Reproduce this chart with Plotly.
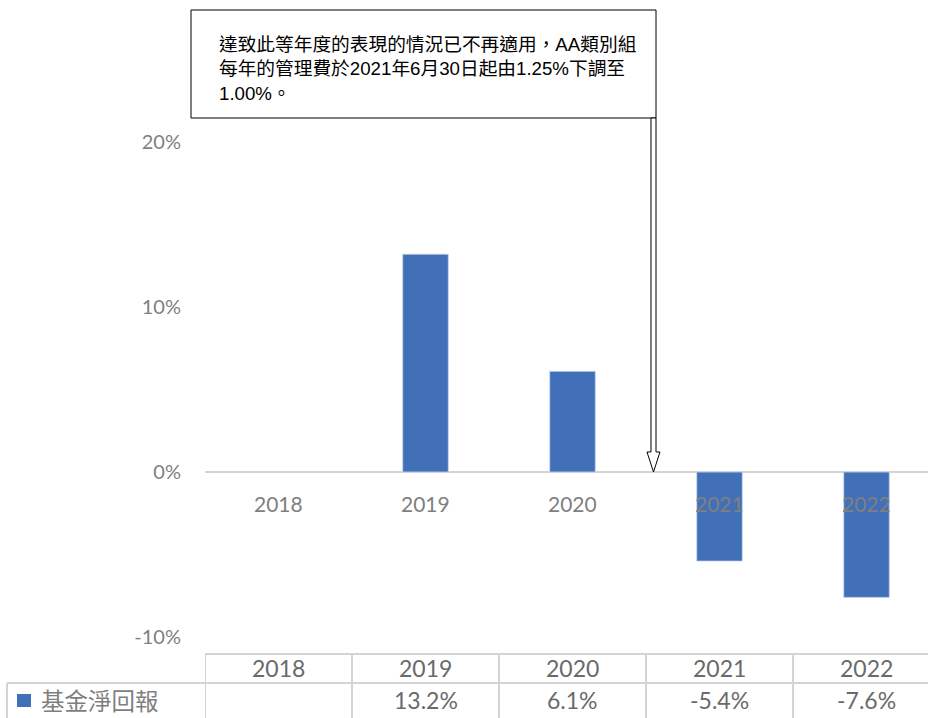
import plotly.graph_objects as go

years = ["2018", "2019", "2020", "2021", "2022"]
returns = [None, 13.2, 6.1, -5.4, -7.6]
return_labels = ["", "13.2%", "6.1%", "-5.4%", "-7.6%"]
y_ticks = [-10, 0, 10, 20]
y_tick_labels = ["-10%", "0%", "10%", "20%"]
series_name = "基金淨回報"
note_text = "達致此等年度的表現的情況已不再適用，AA類別組<br>每年的管理費於2021年6月30日起由1.25%下調至<br>1.00%。"

W, H = 928, 718
PLOT_L, PLOT_T, PLOT_B = 205, 126, 654
L, T, R, B = PLOT_L, PLOT_T, 0, H - PLOT_B
PW, PH = W - PLOT_L, PLOT_B - PLOT_T

BLUE = "#4170B8"
GRID = "#D4D4D4"
TXT = "#7F7F7F"
TBL = "#6A6A6A"
NUM_FONT = "Lato, Carlito, Liberation Sans, sans-serif"
CJK_FONT = "Noto Sans CJK TC, sans-serif"


def px(x):
    return (x - PLOT_L) / PW


def py(y):
    return (PLOT_B - y) / PH


step = 147.0
x_hi = -0.5 + PW / step
y_hi = (472 - PLOT_T) / 16.5
y_lo = -(PLOT_B - 472) / 16.5

fig = go.Figure()
fig.add_trace(go.Bar(
    x=years, y=returns, width=0.31, name=series_name,
    marker=dict(color=BLUE, line=dict(color="rgba(200,215,240,0.8)", width=1)),
    showlegend=False, hoverinfo="skip",
))

shapes = []
annotations = []

# category labels inside plot (drawn on top of bars)
for i, yr in enumerate(years):
    annotations.append(dict(x=i, y=0, xref="x", yref="y", yshift=-31, text=yr,
                            xanchor="center", yanchor="middle", showarrow=False,
                            font=dict(family=NUM_FONT, size=21, color=TXT)))

# data table
line = dict(color=GRID, width=2)
shapes.append(dict(type="line", xref="paper", yref="paper", x0=0, x1=1.05, y0=py(654), y1=py(654), line=line))
shapes.append(dict(type="line", xref="paper", yref="paper", x0=px(7), x1=1.05, y0=py(683), y1=py(683), line=line))
shapes.append(dict(type="line", xref="paper", yref="paper", x0=px(7), x1=px(7), y0=py(683), y1=py(730), line=line))
for i in range(len(years)):
    shapes.append(dict(type="line", xref="x", yref="paper", x0=i - 0.5, x1=i - 0.5, y0=py(654), y1=py(730), line=line))
for i, (yr, lab) in enumerate(zip(years, return_labels)):
    annotations.append(dict(x=i, y=py(667.5), xref="x", yref="paper", text=yr, showarrow=False,
                            xanchor="center", yanchor="middle",
                            font=dict(family=NUM_FONT, size=23, color=TBL)))
    if lab:
        annotations.append(dict(x=i, y=py(700), xref="x", yref="paper", text=lab, showarrow=False,
                                xanchor="center", yanchor="middle",
                                font=dict(family=NUM_FONT, size=23, color=TBL)))
shapes.append(dict(type="rect", xref="paper", yref="paper", x0=px(17), x1=px(31), y0=py(694), y1=py(707),
                   fillcolor=BLUE, line=dict(width=0)))
annotations.append(dict(x=px(39), y=py(700), xref="paper", yref="paper", xanchor="left", yanchor="middle",
                        text=series_name, showarrow=False,
                        font=dict(family=CJK_FONT, size=23.5, color=TXT)))

# note box with arrow
shapes.append(dict(type="rect", xref="paper", yref="paper", x0=px(191), x1=px(656), y0=py(10), y1=py(118),
                   fillcolor="white", line=dict(color="#000000", width=1)))
pts = [(651, 118), (651, 452), (647, 452), (653.5, 472), (660, 452), (656, 452), (656, 118)]
path = "M " + " L ".join(f"{px(a):.5f},{py(b):.5f}" for a, b in pts) + " Z"
shapes.append(dict(type="path", xref="paper", yref="paper", path=path,
                   fillcolor="white", line=dict(color="#000000", width=1)))
annotations.append(dict(x=px(217), y=py(68.5), xref="paper", yref="paper", xanchor="left", yanchor="middle",
                        align="left", text=note_text, showarrow=False,
                        font=dict(family="Liberation Sans, Noto Sans CJK TC, sans-serif", size=18.7, color="#000000")))

fig.update_layout(
    width=W, height=H,
    margin=dict(l=L, r=R, t=T, b=B, pad=0),
    paper_bgcolor="white", plot_bgcolor="white",
    xaxis=dict(type="category", range=[-0.5, x_hi], showticklabels=False, showgrid=False,
               zeroline=False, showline=False, ticks=""),
    yaxis=dict(range=[y_lo, y_hi], tickvals=y_ticks, ticktext=y_tick_labels, showgrid=False,
               zeroline=True, zerolinecolor=GRID, zerolinewidth=2, showline=False,
               ticks="outside", ticklen=19, tickcolor="rgba(0,0,0,0)",
               tickfont=dict(family=NUM_FONT, size=20, color=TXT)),
    shapes=shapes, annotations=annotations,
)

# remove the default 8px page margin so the 928x718 figure fills the window exactly
fig.write_html("out.html", config={"displayModeBar": False},
               post_script="document.body.style.margin='0';document.body.style.overflow='hidden';")
